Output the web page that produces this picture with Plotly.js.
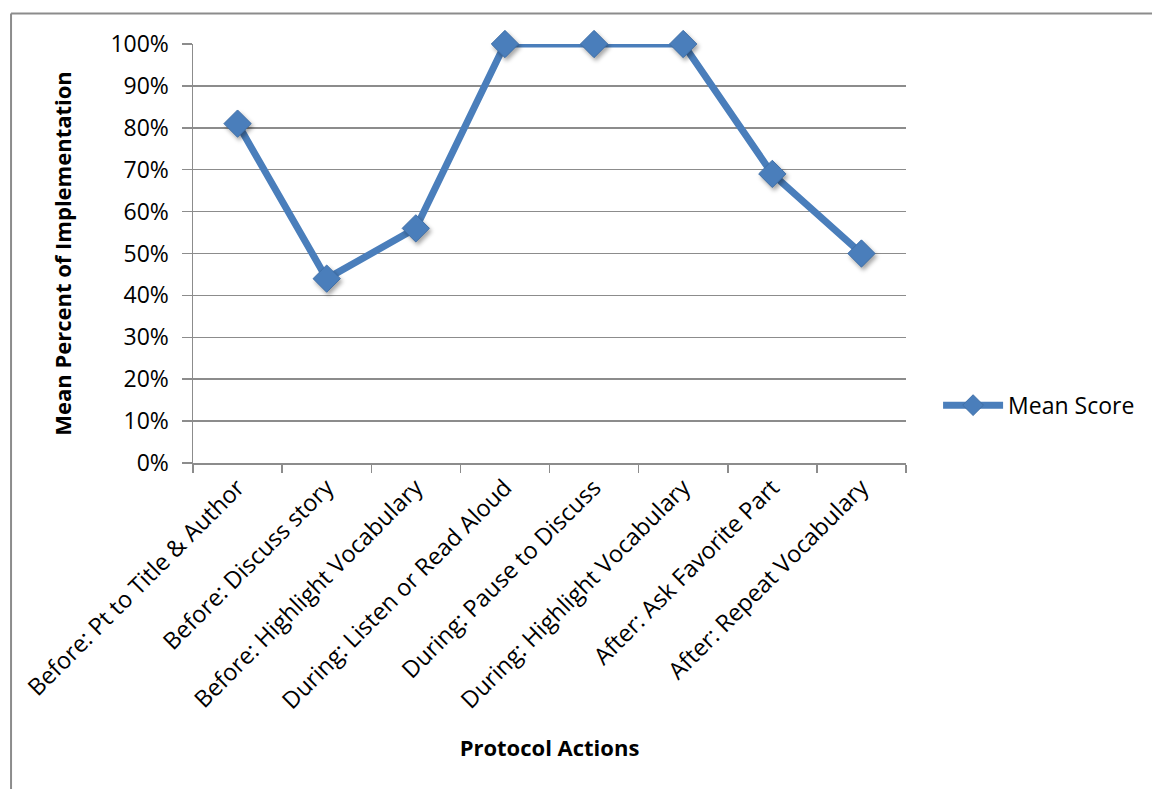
<!DOCTYPE html>
<html>
<head>
<meta charset="utf-8">
<script src="https://cdn.plot.ly/plotly-3.0.1.min.js"></script>
<style>
  html, body { margin: 0; padding: 0; background: #ffffff; }
  #chart { width: 1152px; height: 789px; }
  /* soft drop shadow under the diamond markers */
  #chart .scatterlayer .points path.point {
    filter: drop-shadow(2px 3px 2px rgba(0, 0, 0, 0.35));
  }
</style>
</head>
<body>
<div id="chart"></div>
<script>
// Protocol actions observed during shared reading, with mean implementation rate
const categories = [
  "Before: Pt to Title & Author",
  "Before: Discuss story",
  "Before: Highlight Vocabulary",
  "During: Listen or Read Aloud",
  "During: Pause to Discuss",
  "During: Highlight Vocabulary",
  "After: Ask Favorite Part",
  "After: Repeat Vocabulary"
];
const meanScore = [0.81, 0.44, 0.56, 1.00, 1.00, 1.00, 0.69, 0.50];
const seriesName = "Mean Score";
const yTickValues = [0, 0.1, 0.2, 0.3, 0.4, 0.5, 0.6, 0.7, 0.8, 0.9, 1.0];

const FONT = "'Open Sans', 'Noto Sans', sans-serif";
const BLUE = "#4a7ebb";
const GRID = "#8c8c8c";

const trace = {
  x: categories,
  y: meanScore,
  name: seriesName,
  type: "scatter",
  mode: "lines+markers",
  line: { color: BLUE, width: 7 },
  marker: { symbol: "diamond", size: 21, color: BLUE, line: { color: "#3f6fa8", width: 1 } },
  cliponaxis: false
};

const layout = {
  width: 1152,
  height: 789,
  margin: { l: 193, r: 244, t: 44, b: 326 },
  paper_bgcolor: "#ffffff",
  plot_bgcolor: "#ffffff",
  font: { family: FONT, color: "#000000", size: 20 },
  showlegend: true,
  legend: {
    x: 1.045, xanchor: "left",
    y: 0.138, yanchor: "middle",
    font: { family: FONT, size: 23, color: "#000000" },
    itemwidth: 60,
    bgcolor: "rgba(0,0,0,0)"
  },
  xaxis: {
    type: "category",
    range: [-0.5, 7.5],
    tickangle: -45,
    tickson: "boundaries",
    ticks: "outside",
    ticklen: 8,
    tickwidth: 1.5,
    tickcolor: GRID,
    showline: true,
    linecolor: GRID,
    linewidth: 1.5,
    showgrid: false,
    tickfont: { family: FONT, size: 23.5, color: "#000000" },
    title: { text: "Protocol Actions", font: { family: FONT, size: 22, color: "#000000", weight: "bold" }, standoff: 26 },
    automargin: false
  },
  yaxis: {
    range: [0, 1],
    tickvals: yTickValues,
    tickformat: ".0%",
    ticks: "outside",
    ticklen: 10,
    tickwidth: 1.5,
    tickcolor: GRID,
    showline: true,
    linecolor: GRID,
    linewidth: 1.5,
    showgrid: true,
    gridcolor: GRID,
    gridwidth: 1.5,
    zeroline: false,
    ticklabelstandoff: 8,
    tickfont: { family: FONT, size: 23, color: "#000000" },
    title: { text: "Mean Percent of Implementation", font: { family: FONT, size: 22, color: "#000000", weight: "bold" }, standoff: 32 },
    automargin: false
  },
  shapes: [
    // outer chart frame (left and top edges visible)
    { type: "line", xref: "paper", yref: "paper", x0: -0.2552, x1: -0.2552, y0: -0.78, y1: 1.0728, line: { color: "#8c8c8c", width: 2 } },
    { type: "line", xref: "paper", yref: "paper", x0: -0.2552, x1: 1.35, y0: 1.0728, y1: 1.0728, line: { color: "#8c8c8c", width: 2 } }
  ]
};

Plotly.newPlot("chart", [trace], layout, { displayModeBar: false, staticPlot: true });
</script>
</body>
</html>
